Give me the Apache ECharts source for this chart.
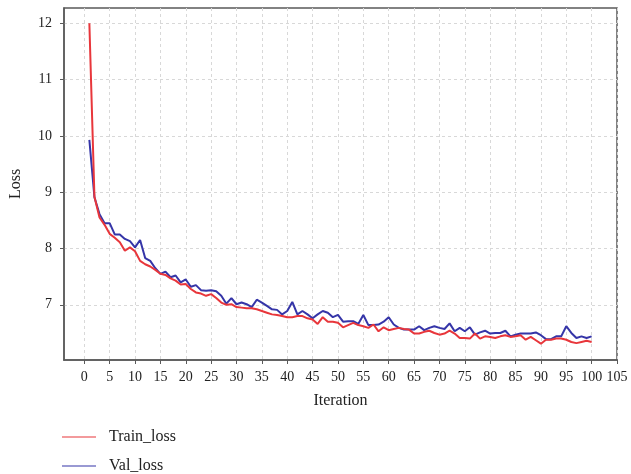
<!DOCTYPE html>
<html>
<head>
<meta charset="utf-8">
<script src="https://cdn.jsdelivr.net/npm/echarts@6/dist/echarts.min.js"></script>
<style>html,body{margin:0;padding:0;background:#fff}#c{width:631px;height:474px}</style>
</head>
<body>
<div id="c"></div>
<script>
const iterations = Array.from({length: 100}, (_, i) => i + 1);
const trainLoss = [12.0, 8.92, 8.55, 8.42, 8.26, 8.19, 8.11, 7.96, 8.02, 7.95,
  7.78, 7.72, 7.68, 7.62, 7.55, 7.53, 7.47, 7.43, 7.36, 7.37,
  7.28, 7.22, 7.20, 7.16, 7.19, 7.12, 7.04, 7.00, 7.01, 6.96,
  6.95, 6.94, 6.94, 6.92, 6.89, 6.86, 6.83, 6.82, 6.80, 6.78,
  6.78, 6.80, 6.80, 6.76, 6.74, 6.66, 6.78, 6.70, 6.70, 6.68,
  6.60, 6.64, 6.68, 6.64, 6.62, 6.59, 6.65, 6.53, 6.60, 6.55,
  6.57, 6.59, 6.57, 6.56, 6.49, 6.49, 6.52, 6.54, 6.50, 6.47,
  6.49, 6.54, 6.49, 6.41, 6.41, 6.40, 6.49, 6.40, 6.44, 6.43,
  6.41, 6.44, 6.46, 6.43, 6.44, 6.46, 6.38, 6.43, 6.37, 6.31,
  6.38, 6.38, 6.40, 6.40, 6.38, 6.34, 6.32, 6.34, 6.36, 6.34];
const valLoss = [9.93, 8.91, 8.61, 8.45, 8.45, 8.25, 8.25, 8.17, 8.13, 8.02,
  8.15, 7.83, 7.78, 7.65, 7.55, 7.59, 7.49, 7.52, 7.40, 7.45,
  7.32, 7.35, 7.26, 7.25, 7.26, 7.24, 7.16, 7.02, 7.12, 7.01,
  7.04, 7.01, 6.96, 7.09, 7.04, 6.98, 6.92, 6.91, 6.83, 6.89,
  7.05, 6.83, 6.89, 6.83, 6.76, 6.83, 6.89, 6.86, 6.78, 6.82,
  6.70, 6.71, 6.71, 6.66, 6.82, 6.64, 6.64, 6.65, 6.70, 6.78,
  6.65, 6.59, 6.56, 6.56, 6.56, 6.62, 6.55, 6.59, 6.62, 6.59,
  6.57, 6.67, 6.53, 6.59, 6.53, 6.60, 6.47, 6.51, 6.54, 6.49,
  6.50, 6.50, 6.54, 6.44, 6.47, 6.49, 6.49, 6.49, 6.51, 6.46,
  6.39, 6.39, 6.44, 6.44, 6.62, 6.50, 6.41, 6.44, 6.41, 6.44];
const xTicks = [0,5,10,15,20,25,30,35,40,45,50,55,60,65,70,75,80,85,90,95,100,105];
const yTicks = [7,8,9,10,11,12];

const font = '"Liberation Serif", "DejaVu Serif", serif';
const chart = echarts.init(document.getElementById('c'), null, {renderer: 'canvas'});
chart.setOption({
  animation: false,
  backgroundColor: '#ffffff',
  grid: {left: 61, top: 8, width: 556, height: 352, show: true, borderColor: '#5a5a5a', borderWidth: 1.5, containLabel: false},
  xAxis: {
    type: 'value', min: -4, max: 105,
    name: 'Iteration', nameLocation: 'middle', nameGap: 33,
    nameTextStyle: {fontFamily: font, fontSize: 16, color: '#222'},
    axisLine: {show: true, onZero: false, lineStyle: {color: '#5a5a5a', width: 1.5}},
    axisTick: {show: true, length: 4, inside: false, customValues: xTicks, lineStyle: {color: '#5a5a5a'}},
    axisLabel: {customValues: xTicks, fontFamily: font, fontSize: 14, color: '#222', margin: 10},
    splitLine: {show: true, lineStyle: {color: '#d8d8d8', type: [3, 3], width: 1}}
  },
  yAxis: {
    type: 'value', min: 6.02, max: 12.27,
    name: 'Loss', nameLocation: 'middle', nameGap: 40,
    nameTextStyle: {fontFamily: font, fontSize: 16, color: '#222'},
    axisLine: {show: true, onZero: false, lineStyle: {color: '#5a5a5a', width: 1.5}},
    axisTick: {show: true, length: 4, inside: false, customValues: yTicks, lineStyle: {color: '#5a5a5a'}},
    axisLabel: {customValues: yTicks, fontFamily: font, fontSize: 14, color: '#222', margin: 12},
    splitLine: {show: true, lineStyle: {color: '#d8d8d8', type: [3, 3], width: 1}}
  },
  legend: {
    orient: 'vertical', left: 62, top: 429, padding: 0, itemGap: 13, itemWidth: 34, itemHeight: 16,
    icon: 'path://M0,7.5L34,7.5L34,8.5L0,8.5Z',
    textStyle: {fontFamily: font, fontSize: 16, color: '#222', padding: [0, 0, 0, 8]},
    data: ['Train_loss', 'Val_loss']
  },
  series: [
    {name: 'Train_loss', type: 'line', symbol: 'none', data: iterations.map((x, i) => [x, trainLoss[i]]),
     lineStyle: {color: '#e8363b', width: 2}, itemStyle: {color: '#e8363b'}, z: 3},
    {name: 'Val_loss', type: 'line', symbol: 'none', data: iterations.map((x, i) => [x, valLoss[i]]),
     lineStyle: {color: '#3535a8', width: 2}, itemStyle: {color: '#3535a8'}, z: 2}
  ]
});
</script>
</body>
</html>
